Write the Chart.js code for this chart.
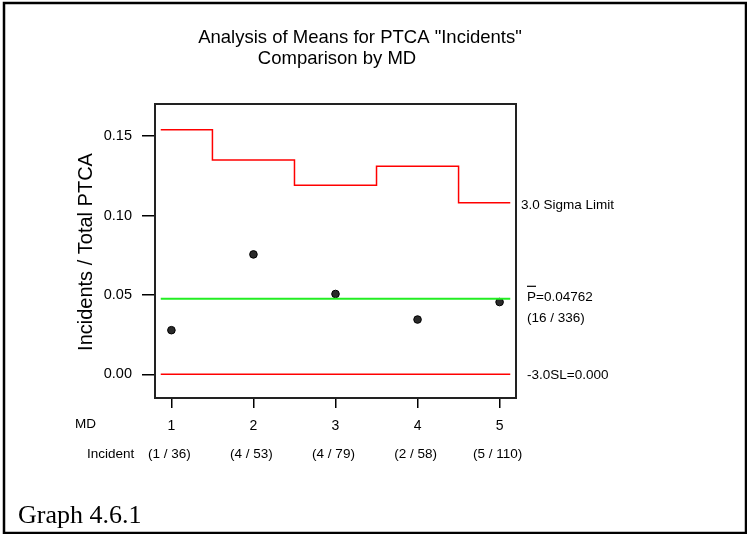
<!DOCTYPE html>
<html>
<head>
<meta charset="utf-8">
<script src="https://cdn.jsdelivr.net/npm/chart.js@4/dist/chart.umd.min.js"></script>
<style>
  html, body { margin: 0; padding: 0; background: #fff; }
  canvas { display: block; }
</style>
</head>
<body>
<canvas id="c" width="747" height="534"></canvas>
<script>
// ---- Data ----
const categories = [1, 2, 3, 4, 5];                 // MD
const incidents = [1, 4, 4, 2, 5];
const totals = [36, 53, 79, 58, 110];
const proportions = [0.0278, 0.0755, 0.0506, 0.0345, 0.0455];
const upperLimits = [0.154, 0.135, 0.119, 0.131, 0.108];
const centerValue = 0.04762;
const centerCounts = [16, 336];
const lowerLimit = 0.000;
const yTickValues = [0, 0.05, 0.10, 0.15];
const xRange = [0.8, 5.2];
const yRange = [-0.0149, 0.1702];
const lineSpan = [0.87, 5.13];

// Build step path for the upper limit from the categories
const uclPoints = [{ x: lineSpan[0], y: upperLimits[0] }];
for (let i = 1; i < categories.length; i++) {
  uclPoints.push({ x: (categories[i - 1] + categories[i]) / 2, y: upperLimits[i] });
}
uclPoints.push({ x: lineSpan[1], y: upperLimits[upperLimits.length - 1] });

const FONT = "'Liberation Sans', Arial, sans-serif";

const textPlugin = {
  id: 'texts',
  beforeDraw(chart) {
    const ctx = chart.ctx;
    ctx.save();
    ctx.fillStyle = '#fff';
    ctx.fillRect(0, 0, chart.width, chart.height);
    ctx.restore();
  },
  afterDraw(chart) {
    const ctx = chart.ctx;
    const xs = chart.scales.x, ys = chart.scales.y;
    const a = chart.chartArea;
    ctx.save();
    // plot frame
    ctx.strokeStyle = '#222';
    ctx.lineWidth = 2;
    ctx.strokeRect(a.left, a.top, a.right - a.left, a.bottom - a.top);
    // page border
    ctx.strokeStyle = '#000';
    ctx.lineWidth = 2.5;
    ctx.strokeRect(4, 3, 742, 530);

    ctx.fillStyle = '#000';
    // titles
    ctx.font = '18.5px ' + FONT;
    ctx.textAlign = 'center';
    ctx.textBaseline = 'alphabetic';
    ctx.fillText('Analysis of Means for PTCA "Incidents"', 360, 43);
    ctx.fillText('Comparison by MD', 337, 64);

    // y-axis title
    ctx.save();
    ctx.translate(92, 252);
    ctx.rotate(-Math.PI / 2);
    ctx.font = '20px ' + FONT;
    ctx.textBaseline = 'alphabetic';
    ctx.fillText('Incidents / Total PTCA', 0, 0);
    ctx.restore();

    // right-side labels
    ctx.font = '13.5px ' + FONT;
    ctx.textAlign = 'left';
    ctx.textBaseline = 'middle';
    const lastU = upperLimits[upperLimits.length - 1];
    ctx.fillText('3.0 Sigma Limit', a.right + 5, ys.getPixelForValue(lastU) + 2);
    const cy = ys.getPixelForValue(centerValue);
    ctx.fillText('P=' + centerValue.toFixed(5), a.right + 11, cy - 1);
    const pw = ctx.measureText('P').width;
    ctx.fillRect(a.right + 11, cy - 13, pw, 1.2);
    ctx.fillText('(' + centerCounts[0] + ' / ' + centerCounts[1] + ')', a.right + 11, cy + 20);
    ctx.fillText('-3.0SL=' + lowerLimit.toFixed(3), a.right + 11, ys.getPixelForValue(lowerLimit) + 1);

    // bottom row labels
    ctx.textAlign = 'left';
    ctx.fillText('MD', 75, 424);
    ctx.fillText('Incident', 87, 454);
    ctx.textAlign = 'center';
    categories.forEach((c, i) => {
      ctx.fillText('(' + incidents[i] + ' / ' + totals[i] + ')', xs.getPixelForValue(c) - 2, 454);
    });

    // footer
    ctx.font = '26px "Liberation Serif", "Times New Roman", serif';
    ctx.textAlign = 'left';
    ctx.textBaseline = 'alphabetic';
    ctx.fillText('Graph 4.6.1', 18, 523);
    ctx.restore();
  }
};

new Chart(document.getElementById('c'), {
  type: 'scatter',
  data: {
    datasets: [
      {
        label: 'UCL',
        type: 'line',
        data: uclPoints,
        stepped: 'before',
        borderColor: '#ff0000',
        borderWidth: 1.5,
        pointRadius: 0,
        fill: false
      },
      {
        label: 'Center',
        type: 'line',
        data: [{ x: lineSpan[0], y: centerValue }, { x: lineSpan[1], y: centerValue }],
        borderColor: '#22ee22',
        borderWidth: 2,
        pointRadius: 0,
        fill: false
      },
      {
        label: 'LCL',
        type: 'line',
        data: [{ x: lineSpan[0], y: lowerLimit }, { x: lineSpan[1], y: lowerLimit }],
        borderColor: '#ff0000',
        borderWidth: 1.5,
        pointRadius: 0,
        fill: false
      },
      {
        label: 'Proportion',
        data: categories.map((c, i) => ({ x: c, y: proportions[i] })),
        pointStyle: 'circle',
        pointRadius: 3.8,
        backgroundColor: '#2a2a2a',
        borderColor: '#000',
        borderWidth: 1
      }
    ]
  },
  options: {
    responsive: false,
    animation: false,
    devicePixelRatio: 1,
    layout: { padding: { top: 104, right: 231, bottom: 0, left: 0 } },
    plugins: { legend: { display: false }, tooltip: { enabled: false }, title: { display: false } },
    scales: {
      x: {
        type: 'linear',
        min: xRange[0], max: xRange[1],
        afterBuildTicks(scale) { scale.ticks = categories.map(v => ({ value: v })); },
        afterFit(scale) { scale.height = 136; },
        border: { display: false },
        grid: { display: true, drawOnChartArea: false, drawTicks: true, tickLength: 10, color: '#000', lineWidth: 1.5 },
        ticks: { color: '#000', font: { family: FONT, size: 14 }, padding: 10, autoSkip: false, maxRotation: 0,
                 callback: v => String(v) }
      },
      y: {
        type: 'linear',
        min: yRange[0], max: yRange[1],
        afterBuildTicks(scale) { scale.ticks = yTickValues.map(v => ({ value: v })); },
        afterFit(scale) { scale.width = 155; },
        border: { display: false },
        grid: { display: true, drawOnChartArea: false, drawTicks: true, tickLength: 13, color: '#000', lineWidth: 1.5 },
        ticks: { color: '#000', font: { family: FONT, size: 14.5 }, padding: 10,
                 callback: v => Number(v).toFixed(2) }
      }
    }
  },
  plugins: [textPlugin]
});
</script>
</body>
</html>
